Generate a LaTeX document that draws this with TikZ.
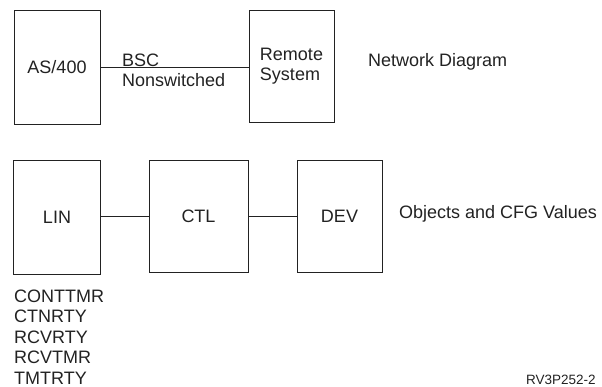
\documentclass[tikz,border=0pt]{standalone}
\usepackage{fontspec}
\setmainfont{Liberation Sans}
\definecolor{ink}{HTML}{222222}

\begin{document}
\begin{tikzpicture}[x=1pt,y=-1pt,
  box/.style={draw=ink, line width=0.9pt, text=ink, inner sep=0pt,
    font=\fontsize{18}{20}\selectfont},
  lbl/.style={text=ink, inner sep=0pt, font=\fontsize{18}{20}\selectfont},
  wire/.style={draw=ink, line width=0.9pt}]
\useasboundingbox (0,0) rectangle (602,387);

% network diagram
\node[box, minimum width=86pt, minimum height=114pt] (as) at (57,67) {AS/400};
\node[box, minimum width=85pt, minimum height=112pt, align=left] (rem) at (291.5,66) {Remote\\System};
\node[lbl, align=left, anchor=north west] (bsc) at (122,53.5) {BSC\\Nonswitched};
\node[lbl, anchor=west] (net) at (368,62) {Network Diagram};

\draw [wire] (as.east) -- (as.east -| rem.west);

% objects
\node[box, minimum width=87pt, minimum height=114pt] (lin) at (57,217) {LIN};
\node[box, minimum width=99pt, minimum height=112pt] (ctl) at (198.5,216) {CTL};
\node[box, minimum width=85pt, minimum height=112pt] (dev) at (339.5,216) {DEV};
\node[lbl, anchor=west] (obj) at (399,214) {Objects and CFG Values};

\draw [wire] (lin.east |- ctl.west) edge (ctl.west) (ctl) edge (dev);

% CFG values of the line
\node[lbl, anchor=base west] (v1) at (14,302) {CONTTMR};
\node[lbl, anchor=base west] (v2) at (14,322.5) {CTNRTY};
\node[lbl, anchor=base west] (v3) at (14,343) {RCVRTY};
\node[lbl, anchor=base west] (v4) at (14,363.5) {RCVTMR};
\node[lbl, anchor=base west] (v5) at (14,384) {TMTRTY};

\node[text=ink, inner sep=0pt, anchor=base west, font=\fontsize{13.5}{16}\selectfont] (fig) at (526,384) {RV3P252-2};
\end{tikzpicture}
\end{document}
